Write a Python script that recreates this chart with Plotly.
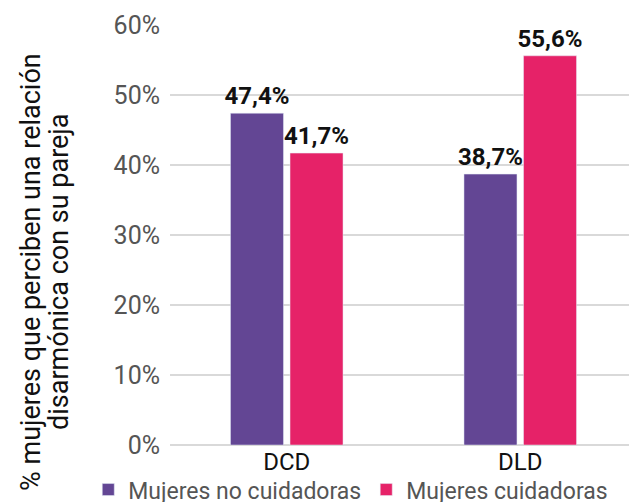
import plotly.graph_objects as go

categories = ["DCD", "DLD"]
no_cuidadoras = [47.4, 38.7]
cuidadoras = [41.7, 55.6]
series_names = ["Mujeres no cuidadoras", "Mujeres cuidadoras"]
tick_vals = [0, 10, 20, 30, 40, 50, 60]
tick_text = ["0%", "10%", "20%", "30%", "40%", "50%", "60%"]
title_lines = ["% mujeres que perciben una relación", "disarmónica con su pareja"]

def fmt(v):
    return f"{v:.1f}".replace(".", ",") + "%"

label_font = dict(family="Roboto", size=24, color="#111111", weight="bold")

# page body has an 8px margin; figure sized so it fills the window to the edges
W, H = 629, 494
OFF = 8

fig = go.Figure()
fig.add_trace(go.Bar(
    x=categories, y=no_cuidadoras, name=series_names[0],
    marker=dict(color="#634694"),
    text=[fmt(v) for v in no_cuidadoras], textposition="outside",
    textfont=label_font, cliponaxis=False, constraintext="none",
))
fig.add_trace(go.Bar(
    x=categories, y=cuidadoras, name=series_names[1],
    marker=dict(color="#e62268"),
    text=[fmt(v) for v in cuidadoras], textposition="outside",
    textfont=label_font, cliponaxis=False, constraintext="none",
))

fig.update_layout(
    width=W, height=H,
    margin=dict(l=170 - OFF, r=0, t=25 - OFF, b=H - (445 - OFF), autoexpand=False),
    paper_bgcolor="white", plot_bgcolor="white",
    barmode="group", bargap=0.49, bargroupgap=0.11,
    font=dict(family="Roboto", color="#555555"),
    showlegend=True,
    legend=dict(orientation="h", x=-0.175, xanchor="left",
                y=-0.055, yanchor="top", bgcolor="rgba(0,0,0,0)",
                font=dict(size=23, color="#555555"), itemwidth=30,
                tracegroupgap=0),
    xaxis=dict(tickfont=dict(size=24, color="#111111"), showgrid=False,
               showline=False, ticks="", range=[-0.5, 1.5], automargin=False),
    yaxis=dict(range=[0, 60], tickvals=tick_vals, ticktext=tick_text,
               tickfont=dict(size=25, color="#555555"),
               showgrid=True, gridcolor="#d9d9d9", gridwidth=1.5,
               zeroline=True, zerolinecolor="#d9d9d9", zerolinewidth=1.5,
               ticklabelstandoff=9, automargin=False),
)

for line, xc in zip(title_lines, [31, 59]):
    fig.add_annotation(
        text=line, textangle=-90, xref="paper", yref="paper",
        x=(xc - 170) / 467, xanchor="center",
        y=(445 - 272) / 420, yanchor="middle",
        showarrow=False,
        font=dict(family="Roboto", size=27, color="#111111"),
    )

fig.write_html("out.html")
